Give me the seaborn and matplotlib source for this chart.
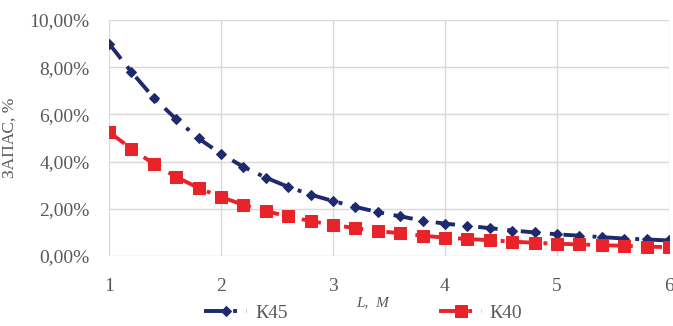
import matplotlib
matplotlib.use("Agg")
import matplotlib.pyplot as plt
import seaborn as sns
import pandas as pd
import numpy as np
from matplotlib.ticker import FuncFormatter, MultipleLocator

L = [1.0, 1.2, 1.4, 1.6, 1.8, 2.0, 2.2, 2.4, 2.6, 2.8, 3.0, 3.2, 3.4, 3.6, 3.8,
     4.0, 4.2, 4.4, 4.6, 4.8, 5.0, 5.2, 5.4, 5.6, 5.8, 6.0]
k45 = [9.00, 7.80, 6.70, 5.80, 4.98, 4.33, 3.78, 3.32, 2.93, 2.60, 2.33, 2.08,
       1.86, 1.68, 1.50, 1.37, 1.28, 1.18, 1.08, 1.00, 0.92, 0.86, 0.80, 0.74,
       0.70, 0.66]
k40 = [5.25, 4.55, 3.90, 3.35, 2.88, 2.50, 2.17, 1.90, 1.68, 1.48, 1.32, 1.18,
       1.06, 0.96, 0.86, 0.78, 0.72, 0.67, 0.61, 0.56, 0.52, 0.49, 0.46, 0.43,
       0.40, 0.37]
series_names = ["К45", "К40"]

df = pd.DataFrame({
    "L": L * 2,
    "val": k45 + k40,
    "series": [series_names[0]] * len(L) + [series_names[1]] * len(L),
})

sns.set_theme(style="white")
plt.rcParams['font.family'] = ['Liberation Serif', 'DejaVu Serif']

fig = plt.figure(figsize=(6.73, 3.26), dpi=100)
ax = fig.add_axes([109/673, 1 - 256/326, (669-109)/673, (256-20)/326])

colors = {"К45": "#1f2a6e", "К40": "#e8232a"}
markers = {"К45": "D", "К40": "s"}
msize = {"К45": 5.5, "К40": 8}

for name in series_names:
    sub = df[df["series"] == name]
    sns.lineplot(data=sub, x="L", y="val", ax=ax, color=colors[name],
                 marker=markers[name], markersize=msize[name],
                 markeredgecolor=colors[name], linewidth=2.8,
                 dashes=False, label=name)
    ax.lines[-1].set_linestyle((0, (5, 2.5, 1, 2.5)))

ax.set_xlim(1, 6)
ax.set_ylim(0, 10)
ax.xaxis.set_major_locator(MultipleLocator(1))
ax.yaxis.set_major_locator(MultipleLocator(2))
ax.yaxis.set_major_formatter(FuncFormatter(lambda v, p: f"{v:.2f}%".replace(".", ",")))
ax.grid(True, color="#d9d9d9", linewidth=1)
for s in ax.spines.values():
    s.set_visible(False)
ax.tick_params(axis="both", colors="#595959", labelsize=14, length=0)
ax.tick_params(axis="y", pad=14)
ax.tick_params(axis="x", pad=16)
for lbl in ax.get_xticklabels() + ax.get_yticklabels():
    lbl.set_color("#595959")

ax.set_ylabel("ЗАПАС, %", fontsize=12.5, color="#595959")
ax.yaxis.set_label_coords(-0.163, 0.5)
ax.set_xlabel("L,  М", fontsize=11, color="#595959", style="italic")
ax.xaxis.set_label_coords(0.47, -0.17)

ax.get_legend().remove()
handles, labels = ax.get_legend_handles_labels()
fig.legend(handles, labels, loc="center", bbox_to_anchor=(0.54, 1 - 313/326),
           borderaxespad=0, borderpad=0,
           ncol=2, frameon=False, fontsize=14, columnspacing=7.8, handlelength=2.2,
           handletextpad=0.4, labelcolor="#595959")

fig.savefig("out.png", dpi=100)
